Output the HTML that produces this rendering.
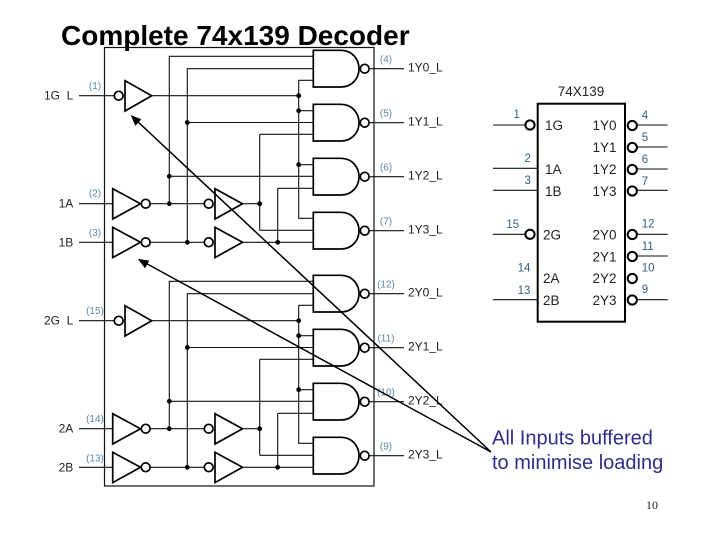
<!DOCTYPE html>
<html>
<head>
<meta charset="utf-8">
<style>
html,body{margin:0;padding:0;background:#fff;width:720px;height:540px;overflow:hidden}
svg{display:block}
text{font-family:"Liberation Sans",Arial,sans-serif}
.w{fill:none;stroke:#111;stroke-width:1.1}
.g{fill:#fff;stroke:#000;stroke-width:1.7}
.l{font-size:12px;fill:#222}
.n{font-size:10px;fill:#5a86a8;text-anchor:middle}
.p{font-size:13.5px;fill:#222}
.q{font-size:11.5px;fill:#2f5f86}
</style>
</head>
<body>
<svg width="720" height="540" viewBox="0 0 720 540" xmlns="http://www.w3.org/2000/svg">
<defs>
<g id="nand">
<path class="g" d="M313.3 50.3H341C352 50.3 359 59 359 68.7C359 78.4 352 87 341 87H313.3Z"/>
<circle class="g" cx="364.7" cy="68.7" r="4.4"/>
<path class="w" d="M369.3 68.7H404"/>
</g>
<g id="inpL">
<path class="g" d="M112.7 188.7V219L140.5 203.7Z"/>
<circle class="g" cx="145.7" cy="203.7" r="4.4"/>
</g>
<g id="inpR">
<circle class="g" cx="208.7" cy="203.7" r="4.4"/>
<path class="g" d="M215 188.7V219L242.5 203.7Z"/>
</g>
<g id="dot"><circle cx="0" cy="0" r="2.4" fill="#000"/></g>
<g id="half">
<path class="w" d="M79 95.7H114.2"/>
<circle class="g" cx="118.7" cy="95.7" r="4.4"/>
<path class="g" d="M125 80.7V111L151.7 95.7Z"/>
<path class="w" d="M151.7 95.7H298.7M298.7 80.3H313.3M298.7 80.3V218.3H313.3M298.7 110.7H313.3M298.7 164.7H313.3"/>
<path class="w" d="M313.3 56.3H169.3V203.7M169.3 176.3H313.3"/>
<path class="w" d="M313.3 68.7H187.3V242.3M187.3 122.5H313.3"/>
<path class="w" d="M79 203.7H112.7M150.3 203.7H204.1M242.5 203.7H259.7M259.7 134.3V230.3M259.7 134.3H313.3M259.7 230.3H313.3"/>
<path class="w" d="M79 242.3H112.7M150.3 242.3H204.1M242.5 242.3H313.3M277.7 188.3V242.3M277.7 188.3H313.3"/>
<use href="#inpL"/><use href="#inpL" y="38.6"/>
<use href="#inpR"/><use href="#inpR" y="38.6"/>
<use href="#nand"/><use href="#nand" y="54"/><use href="#nand" y="108"/><use href="#nand" y="162"/>
<use href="#dot" x="298.7" y="95.7"/><use href="#dot" x="298.7" y="110.7"/><use href="#dot" x="298.7" y="164.7"/>
<use href="#dot" x="169.3" y="176.3"/><use href="#dot" x="169.3" y="203.7"/>
<use href="#dot" x="187.3" y="122.5"/><use href="#dot" x="187.3" y="242.3"/>
<use href="#dot" x="259.7" y="203.7"/><use href="#dot" x="277.7" y="242.3"/>
</g>
<g id="rb"><circle cx="632.3" cy="0" r="4.6" fill="#fff" stroke="#000" stroke-width="2"/></g>
</defs>

<rect width="720" height="540" fill="#fff"/>
<text x="61" y="45" font-size="28px" font-weight="700" fill="#000">Complete 74x139 Decoder</text>

<rect x="104.5" y="47.5" width="269.5" height="438.5" fill="none" stroke="#111" stroke-width="1.2"/>
<use href="#half"/>
<use href="#half" y="225"/>

<text class="l" x="73.3" y="99.5" text-anchor="end" xml:space="preserve">1G  L</text>
<text class="l" x="73.3" y="207.5" text-anchor="end">1A</text>
<text class="l" x="73.3" y="246.5" text-anchor="end">1B</text>
<text class="l" x="73.3" y="324.5" text-anchor="end" xml:space="preserve">2G  L</text>
<text class="l" x="73.3" y="432.5" text-anchor="end">2A</text>
<text class="l" x="73.3" y="471.5" text-anchor="end">2B</text>

<text class="n" x="95" y="89">(1)</text>
<text class="n" x="95" y="196.7">(2)</text>
<text class="n" x="95" y="236">(3)</text>
<text class="n" x="95" y="314">(15)</text>
<text class="n" x="95" y="422">(14)</text>
<text class="n" x="95" y="461.7">(13)</text>
<text class="n" x="386" y="62.7">(4)</text>
<text class="n" x="386" y="116.7">(5)</text>
<text class="n" x="386" y="170.7">(6)</text>
<text class="n" x="386" y="224.7">(7)</text>
<text class="n" x="386" y="287.7">(12)</text>
<text class="n" x="386" y="341.7">(11)</text>
<text class="n" x="386" y="395.7">(10)</text>
<text class="n" x="386" y="449.7">(9)</text>

<text class="l" x="408" y="71.7">1Y0_L</text>
<text class="l" x="408" y="125.7">1Y1_L</text>
<text class="l" x="408" y="179.7">1Y2_L</text>
<text class="l" x="408" y="233.7">1Y3_L</text>
<text class="l" x="408" y="296.7">2Y0_L</text>
<text class="l" x="408" y="350.7">2Y1_L</text>
<text class="l" x="408" y="404.7">2Y2_L</text>
<text class="l" x="408" y="458.7">2Y3_L</text>

<!-- IC -->
<text x="581" y="96" font-size="13.5px" fill="#222" text-anchor="middle">74X139</text>
<path class="w" d="M493 125H525M493 168.3H537.7M493 190.3H537.7M493 234.3H525M493 299.7H537.7"/>
<path class="w" d="M637 125H667.7M637 147H667.7M637 169H667.7M637 190.3H667.7M637 234.3H667.7M637 256H667.7M637 299.7H667.7"/>
<rect x="537.7" y="103.7" width="87.3" height="218" fill="none" stroke="#000" stroke-width="2"/>
<circle cx="530" cy="125" r="4.6" fill="#fff" stroke="#000" stroke-width="2"/>
<circle cx="530" cy="234.3" r="4.6" fill="#fff" stroke="#000" stroke-width="2"/>
<use href="#rb" y="125.5"/><use href="#rb" y="147.5"/><use href="#rb" y="169.5"/><use href="#rb" y="191"/>
<use href="#rb" y="234.5"/><use href="#rb" y="256.5"/><use href="#rb" y="278.5"/><use href="#rb" y="300"/>

<text class="p" x="545" y="130">1G</text>
<text class="p" x="545" y="174">1A</text>
<text class="p" x="545" y="196">1B</text>
<text class="p" x="543" y="239.5">2G</text>
<text class="p" x="543" y="283">2A</text>
<text class="p" x="543" y="305">2B</text>
<text class="p" x="592.5" y="130">1Y0</text>
<text class="p" x="592.5" y="152">1Y1</text>
<text class="p" x="592.5" y="174">1Y2</text>
<text class="p" x="592.5" y="196">1Y3</text>
<text class="p" x="592.5" y="239.5">2Y0</text>
<text class="p" x="592.5" y="261.5">2Y1</text>
<text class="p" x="592.5" y="283">2Y2</text>
<text class="p" x="592.5" y="305">2Y3</text>

<text class="q" x="516.7" y="118" text-anchor="middle">1</text>
<text class="q" x="527.7" y="162" text-anchor="middle">2</text>
<text class="q" x="527.7" y="184" text-anchor="middle">3</text>
<text class="q" x="512.7" y="228" text-anchor="middle">15</text>
<text class="q" x="524" y="271.7" text-anchor="middle">14</text>
<text class="q" x="524" y="294" text-anchor="middle">13</text>
<text class="q" x="641.7" y="119">4</text>
<text class="q" x="641.7" y="141">5</text>
<text class="q" x="641.7" y="163">6</text>
<text class="q" x="641.7" y="185">7</text>
<text class="q" x="641.7" y="227.7">12</text>
<text class="q" x="641.7" y="250">11</text>
<text class="q" x="641.7" y="271.7">10</text>
<text class="q" x="641.7" y="293">9</text>

<!-- callout arrows -->
<path d="M491 452L131.7 116M491 452L140 260" fill="none" stroke="#000" stroke-width="1.5"/>
<path d="M131.7 116L140.5 119.5L135.5 125Z" fill="#000" stroke="#000" stroke-width="1"/>
<path d="M139 259.5L148.5 261L145 267.5Z" fill="#000" stroke="#000" stroke-width="1"/>

<text x="492" y="444.3" font-size="20px" fill="#2e2e88">All Inputs buffered</text>
<text x="492" y="469" font-size="20px" fill="#2e2e88">to minimise loading</text>
<text x="646" y="509" font-size="12px" fill="#222" style="font-family:'Liberation Serif',serif">10</text>
</svg>
</body>
</html>
